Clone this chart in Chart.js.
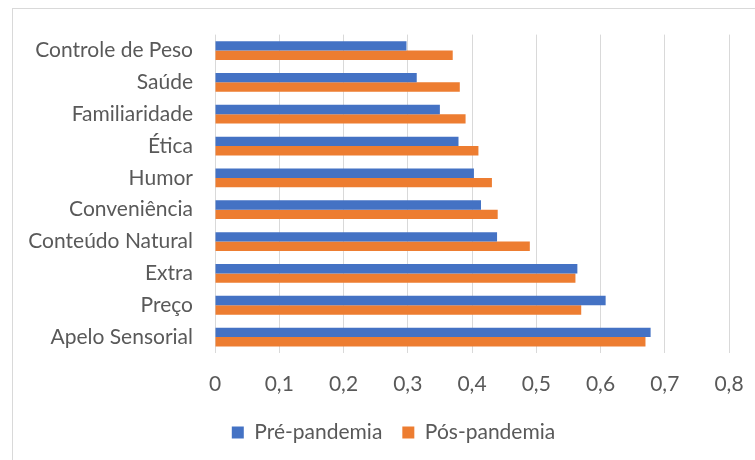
<!DOCTYPE html>
<html>
<head>
<meta charset="utf-8">
<script src="https://cdn.jsdelivr.net/npm/chart.js@4.4.1/dist/chart.umd.min.js"></script>
<style>
  html, body { margin: 0; padding: 0; background: #ffffff; overflow: hidden; }
  #wrap { position: relative; width: 755px; height: 460px; }
  #frame { position: absolute; left: 12px; top: 8px; width: 800px; height: 500px;
           border-left: 1px solid #d9d9d9; border-top: 1px solid #d9d9d9; pointer-events: none; }
  canvas { position: absolute; left: 0; top: 0; }
</style>
</head>
<body>
<div id="wrap">
  <div id="frame"></div>
  <canvas id="chart" width="755" height="460"></canvas>
</div>
<script>
// Motivos de escolha alimentar, antes e depois da pandemia
const categories = [
  'Controle de Peso', 'Saúde', 'Familiaridade', 'Ética', 'Humor',
  'Conveniência', 'Conteúdo Natural', 'Extra', 'Preço', 'Apelo Sensorial'
];
const prePandemia = [0.298, 0.314, 0.350, 0.379, 0.403, 0.414, 0.439, 0.564, 0.608, 0.678];
const posPandemia = [0.370, 0.381, 0.390, 0.410, 0.431, 0.440, 0.490, 0.561, 0.570, 0.670];
const xTickLabels = ['0', '0,1', '0,2', '0,3', '0,4', '0,5', '0,6', '0,7', '0,8'];

const FONT = 'Lato';
const FONT_SIZE = 21;
const TEXT = '#595959';

// Centre the legend on the outer frame rather than on the padded layout box
const legendOnFrame = {
  id: 'legendOnFrame',
  afterLayout(chart) {
    const lg = chart.legend;
    if (!lg) return;
    lg.left = 12;
    lg.right = 775;
    lg.width = lg.right - lg.left;
  }
};

new Chart(document.getElementById('chart'), {
  type: 'bar',
  data: {
    labels: categories,
    datasets: [
      { label: 'Pré-pandemia', data: prePandemia, backgroundColor: '#4472C4',
        categoryPercentage: 0.59, barPercentage: 1.0 },
      { label: 'Pós-pandemia', data: posPandemia, backgroundColor: '#ED7D31',
        categoryPercentage: 0.59, barPercentage: 1.0 }
    ]
  },
  plugins: [legendOnFrame],
  options: {
    indexAxis: 'y',
    responsive: false,
    animation: false,
    layout: { padding: { left: 10, right: 26, top: 32, bottom: 7 } },
    scales: {
      x: {
        min: 0, max: 0.8,
        ticks: {
          stepSize: 0.1,
          color: TEXT,
          font: { family: FONT, size: FONT_SIZE },
          padding: 19,
          maxRotation: 0,
          callback: (v, i) => xTickLabels[i]
        },
        grid: { color: '#d9d9d9', lineWidth: 1, drawTicks: false },
        border: { display: false },
        afterFit: (axis) => {
          axis.height = 49;
          axis.paddingLeft = 0;
          axis.paddingRight = 0;
        }
      },
      y: {
        ticks: {
          color: TEXT,
          font: { family: FONT, size: FONT_SIZE },
          padding: 22,
          autoSkip: false
        },
        grid: { display: false, drawTicks: false },
        border: { display: false },
        afterFit: (axis) => { axis.width = 215 - 10; }
      }
    },
    plugins: {
      tooltip: { enabled: false },
      legend: {
        position: 'bottom',
        labels: {
          color: TEXT,
          font: { family: FONT, size: FONT_SIZE },
          boxWidth: 12,
          boxHeight: 12,
          padding: 20
        }
      }
    }
  }
});
</script>
</body>
</html>
